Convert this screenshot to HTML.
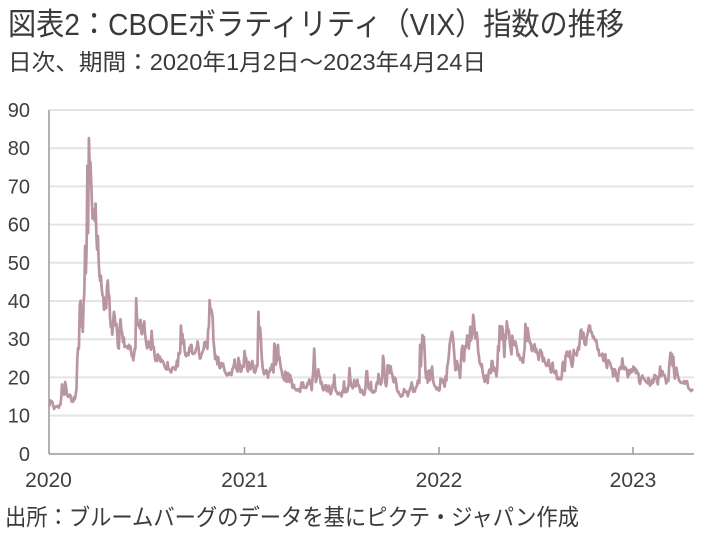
<!DOCTYPE html>
<html>
<head>
<meta charset="utf-8">
<style>
html,body{margin:0;padding:0;background:#fff;}
svg{display:block;}
.t{font-family:"Liberation Sans","Noto Sans CJK JP",sans-serif;fill:#3a3a3a;}
.ax{font-family:"Liberation Sans",sans-serif;fill:#3f3f3f;font-size:20px;}
</style>
</head>
<body>
<svg id="c" width="702" height="541" viewBox="0 0 702 541" xmlns="http://www.w3.org/2000/svg">
<rect width="702" height="541" fill="#fff"/>
<text class="t" x="8" y="35" font-size="31" textLength="616" lengthAdjust="spacingAndGlyphs">図表2：CBOEボラティリティ（VIX）指数の推移</text>
<text class="t" x="8" y="70" font-size="23" textLength="478" lengthAdjust="spacingAndGlyphs">日次、期間：2020年1月2日～2023年4月24日</text>
<text class="t" x="5" y="525" font-size="23" textLength="574" lengthAdjust="spacingAndGlyphs">出所：ブルームバーグのデータを基にピクテ・ジャパン作成</text>
<g stroke="#e4e4e4" stroke-width="2">
<line x1="49" y1="110" x2="694" y2="110"/>
<line x1="49" y1="148.2" x2="694" y2="148.2"/>
<line x1="49" y1="186.4" x2="694" y2="186.4"/>
<line x1="49" y1="224.6" x2="694" y2="224.6"/>
<line x1="49" y1="262.8" x2="694" y2="262.8"/>
<line x1="49" y1="301" x2="694" y2="301"/>
<line x1="49" y1="339.2" x2="694" y2="339.2"/>
<line x1="49" y1="377.4" x2="694" y2="377.4"/>
<line x1="49" y1="415.6" x2="694" y2="415.6"/>
</g>
<g class="ax" text-anchor="end">
<text x="30" y="117">90</text>
<text x="30" y="155.2">80</text>
<text x="30" y="193.4">70</text>
<text x="30" y="231.6">60</text>
<text x="30" y="269.8">50</text>
<text x="30" y="308">40</text>
<text x="30" y="346.2">30</text>
<text x="30" y="384.4">20</text>
<text x="30" y="422.6">10</text>
<text x="30" y="461">0</text>
</g>
<g class="ax" text-anchor="middle">
<text x="48.5" y="487" style="font-size:21px">2020</text>
<text x="244.5" y="487" style="font-size:21px">2021</text>
<text x="439" y="487" style="font-size:21px">2022</text>
<text x="633" y="487" style="font-size:21px">2023</text>
</g>
<polyline id="vix" fill="none" stroke="#b8959f" stroke-width="2.7" stroke-linejoin="round" points=""/>
<g stroke="#999" stroke-width="1.5">
<line x1="49" y1="110" x2="49" y2="454"/>
<line x1="49" y1="454" x2="694" y2="454"/>
<line x1="244.5" y1="447" x2="244.5" y2="454"/>
<line x1="439" y1="447" x2="439" y2="454"/>
<line x1="633" y1="447" x2="633" y2="454"/>
</g>
</svg>
<script>
var D={
"2020-01":[12.47,14.02,13.85,13.79,13.45,12.54,11.79,12.32,12.39,12.42,12.56,12.32,12.10,12.85,12.91,14.56,18.23,16.28,16.39,15.49,18.84],
"2020-02":[17.97,16.05,15.15,14.96,15.47,15.47,15.04,13.74,14.15,13.68,14.83,14.38,15.56,17.08,25.03,27.85,27.56,39.16,40.11],
"2020-03":[33.42,36.82,31.99,39.62,41.94,54.46,47.30,53.90,75.47,57.83,82.69,75.91,76.45,72.00,66.04,61.59,61.67,63.95,61.00,65.54,57.08,53.54],
"2020-04":[57.06,50.91,46.80,45.24,46.70,43.35,41.67,41.17,37.76,40.84,40.11,38.15,43.83,45.41,41.98,41.38,35.93,33.29,33.57,31.23,34.15],
"2020-05":[37.19,35.97,33.61,34.12,31.44,27.98,27.57,33.04,35.28,32.61,31.89,29.30,30.53,27.99,28.16,28.16,28.01,27.62,28.59,27.51],
"2020-06":[28.23,26.84,25.66,25.81,24.52,25.81,27.57,27.57,40.79,36.09,34.40,33.67,33.47,32.94,35.12,31.77,31.37,33.84,32.22,34.73,31.78,30.43],
"2020-07":[28.62,27.68,27.94,29.43,28.08,29.26,27.29,32.19,29.52,27.76,28.00,25.68,24.46,24.84,24.32,26.08,25.84,24.74,25.44,24.10,24.76,24.46],
"2020-08":[24.28,23.76,22.99,22.65,22.21,22.13,24.03,22.28,22.13,22.05,21.35,21.51,22.54,22.72,22.54,22.37,22.03,23.27,24.47,22.96,26.41],
"2020-09":[26.12,26.57,33.60,30.75,31.46,28.81,29.71,26.87,25.85,25.59,26.04,26.46,25.83,27.78,26.86,28.58,28.51,26.38,26.19,26.27,26.37],
"2020-10":[26.70,27.63,27.96,29.48,28.06,26.36,25.00,25.07,26.07,26.40,26.97,27.41,29.18,29.35,28.65,28.11,27.55,32.46,33.35,40.28,37.59,38.02],
"2020-11":[37.13,35.55,29.57,27.58,24.86,25.75,24.80,23.45,25.35,23.10,22.45,22.71,23.84,23.11,23.70,22.66,21.64,21.25,20.84,20.57],
"2020-12":[20.77,21.17,21.28,20.79,21.30,20.68,22.27,22.52,23.31,24.72,22.89,22.50,21.93,21.57,25.16,24.23,23.31,21.53,21.70,23.08,22.77,22.75],
"2021-01":[26.97,25.34,25.07,22.37,21.56,24.08,23.33,22.21,23.25,24.34,23.24,21.58,21.32,21.91,23.19,23.02,37.21,30.21,33.09],
"2021-02":[30.24,25.56,22.91,21.77,20.87,21.24,21.63,21.99,21.25,19.97,21.46,21.50,22.49,22.05,23.45,23.11,21.34,28.89,27.95],
"2021-03":[23.35,24.10,26.67,28.57,24.66,25.47,24.03,22.56,21.91,20.69,20.03,19.79,19.23,21.58,20.95,18.88,20.30,21.20,19.81,18.86,20.74,19.61,19.40],
"2021-04":[17.33,17.91,18.12,17.16,16.95,16.69,16.91,16.65,16.99,16.57,16.25,17.29,18.68,17.50,18.71,17.33,17.64,17.56,17.28,17.61,18.61],
"2021-05":[18.31,19.48,19.15,18.39,16.69,19.66,21.84,27.59,23.13,18.81,19.72,21.34,22.18,20.67,20.15,18.40,18.84,17.36,16.74,16.76],
"2021-06":[17.90,17.48,18.04,16.42,16.42,17.07,17.89,16.10,15.65,16.39,17.02,18.15,17.75,20.70,17.89,16.66,16.32,15.97,15.62,15.76,16.02,15.83],
"2021-07":[15.48,15.07,16.44,16.20,19.00,16.18,16.17,17.12,16.33,17.01,18.45,22.50,19.73,17.91,17.69,17.20,17.58,19.36,18.31,17.70,18.24],
"2021-08":[19.46,18.04,17.97,17.28,16.15,16.72,16.79,16.06,15.59,15.45,16.12,17.91,21.57,21.67,18.56,17.15,17.22,16.79,18.84,16.39,16.14,16.48],
"2021-09":[16.11,16.41,16.41,17.96,18.80,18.38,20.95,19.37,19.46,18.18,18.69,20.81,25.71,24.36,20.87,18.63,17.75,18.76,23.25,22.56,23.14],
"2021-10":[21.15,22.96,21.30,21.00,19.54,18.77,20.00,19.85,18.64,16.86,16.30,16.30,15.70,15.49,15.01,15.43,15.24,15.98,16.98,16.53,16.26],
"2021-11":[16.41,16.03,15.10,16.03,16.48,17.22,17.78,18.73,17.66,16.29,16.49,16.37,17.11,17.59,17.91,19.17,19.38,18.58,28.62,22.96,27.19],
"2021-12":[31.12,27.95,30.67,27.18,21.89,19.90,21.58,18.69,20.31,21.89,19.29,20.57,21.57,22.87,19.70,18.63,17.96,17.68,17.54,16.95,17.33,17.22],
"2022-01":[16.60,16.91,19.73,19.61,18.76,19.40,18.41,17.62,20.31,19.19,22.79,23.85,25.59,28.85,29.90,31.16,31.96,30.49,27.66,24.83],
"2022-02":[21.96,22.09,24.35,23.22,22.86,21.44,19.96,23.91,27.36,28.33,25.70,24.29,28.11,27.75,28.81,31.02,30.32,27.59,30.15],
"2022-03":[33.32,29.74,30.48,31.98,36.45,35.13,32.45,30.23,30.75,31.77,29.83,26.67,25.67,23.87,23.53,22.94,23.57,21.67,20.81,19.63,18.90,19.33,20.56],
"2022-04":[19.63,18.57,21.03,22.10,21.55,21.16,24.37,24.26,21.82,22.70,22.17,21.37,20.32,22.68,28.21,27.02,33.52,31.60,29.99,33.40],
"2022-05":[32.34,29.25,25.42,31.20,30.19,34.75,32.99,32.56,31.77,28.87,27.47,26.10,30.96,29.35,29.43,28.48,29.45,28.37,27.50,25.72,26.19],
"2022-06":[25.69,24.72,24.79,25.07,24.02,23.96,26.09,27.75,34.02,32.69,29.62,32.95,31.13,30.19,28.95,29.05,27.23,26.95,28.36,28.16,28.71],
"2022-07":[26.70,27.54,26.73,26.08,24.64,26.17,27.29,26.82,26.40,24.23,25.30,24.50,23.88,23.11,23.03,23.36,24.69,23.24,22.33,21.33],
"2022-08":[22.84,23.93,21.95,21.44,21.15,21.29,21.77,19.74,20.20,19.53,19.95,19.69,19.90,19.56,20.60,23.80,24.11,22.82,21.78,25.56,26.21,26.83,25.87],
"2022-09":[25.56,25.47,26.91,24.64,23.61,22.79,23.87,27.27,26.16,26.27,26.30,25.76,27.16,27.99,27.35,29.92,32.26,32.60,30.18,31.84,31.62],
"2022-10":[29.07,28.55,28.55,30.52,31.36,32.45,33.63,33.57,31.94,32.02,31.37,30.50,30.76,29.98,29.69,29.85,28.46,27.28,27.39,25.75,25.88],
"2022-11":[25.81,25.86,26.27,24.55,24.35,25.54,26.09,23.53,22.52,23.73,24.54,24.11,23.93,23.12,22.36,22.36,20.35,20.50,22.21,21.89,20.58],
"2022-12":[19.84,19.06,20.75,22.26,22.68,22.29,22.83,25.00,22.55,22.17,22.83,22.62,22.42,21.46,20.07,21.97,20.87,21.65,22.14,21.44,21.67],
"2023-01":[22.90,22.01,22.46,21.13,21.97,21.07,21.09,18.83,18.35,19.36,20.34,20.52,19.85,19.81,19.20,19.03,18.73,18.51,19.94,19.40],
"2023-02":[17.87,18.73,18.33,19.43,18.66,19.63,20.71,20.53,20.34,18.91,18.23,20.17,20.02,22.87,21.14,20.45,21.67,20.95,20.70],
"2023-03":[20.58,19.59,18.49,19.09,19.59,19.11,22.61,24.80,26.52,23.73,26.14,22.99,25.51,21.38,19.75,22.26,22.61,21.74,20.60,19.97,19.12,19.08,18.70],
"2023-04":[18.55,18.58,19.08,18.40,18.97,18.97,19.09,17.80,17.07,16.95,16.83,16.46,16.77,16.77,16.89]
};
(function(){
  var base=Date.UTC(2020,0,1), ppd=(633-49)/1096, pts=[];
  for(var k in D){
    var p=k.split('-'), y=+p[0], m=+p[1];
    var s=Date.UTC(y,m-1,1), e=Date.UTC(y,m,1);
    var d0=(s-base)/864e5, len=(e-s)/864e5;
    if(k==="2023-04"){d0+=2;len=22;}
    var a=D[k], n=a.length;
    for(var i=0;i<n;i++){
      var d=d0+(i+0.5)/n*len;
      var x=49+d*ppd, yy=454-a[i]*3.82;
      pts.push(x.toFixed(1)+","+yy.toFixed(1));
    }
  }
  document.getElementById("vix").setAttribute("points",pts.join(" "));
})();
</script>
</body>
</html>
